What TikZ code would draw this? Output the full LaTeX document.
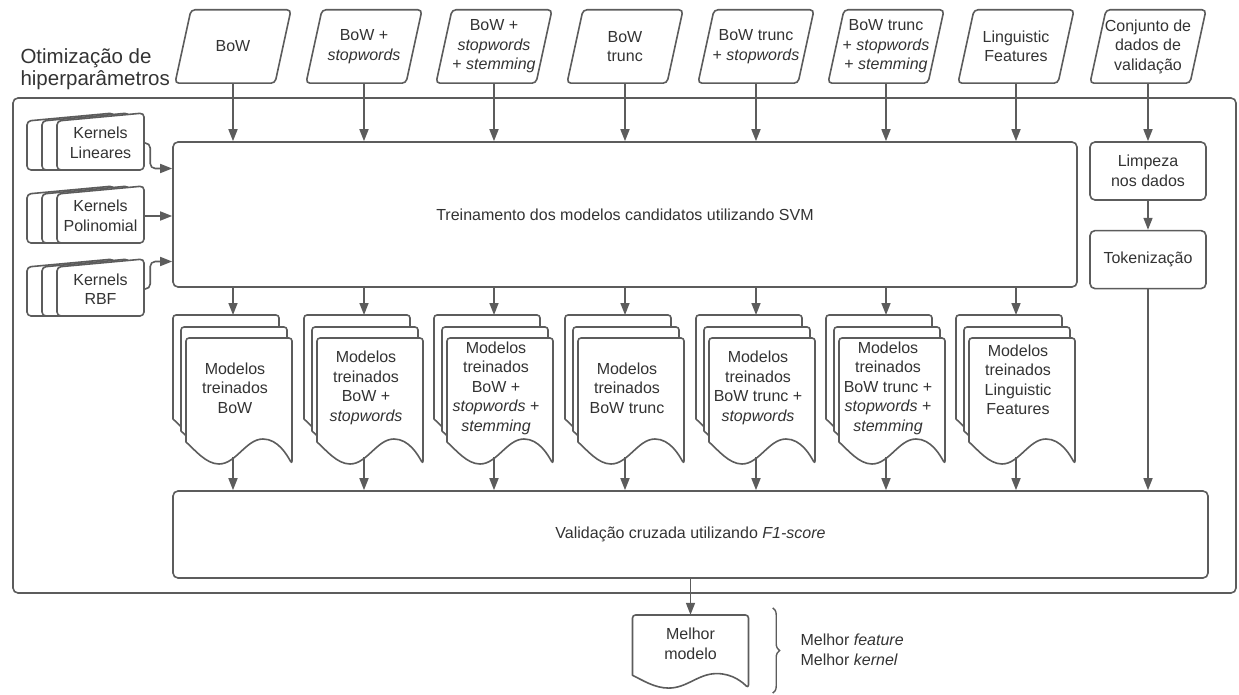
\documentclass[tikz,border=0pt]{standalone}
\usepackage{fontspec}
\setmainfont{Liberation Sans}
\usetikzlibrary{arrows.meta, positioning, decorations.pathreplacing}
\definecolor{linegray}{RGB}{92,92,92}
\definecolor{txtgray}{RGB}{51,51,51}

\tikzset{
  kcard/.pic={\draw[card, rounded corners=4pt] (0,0) -- (87,-8) -- (87,49) -- (0,49) -- cycle;},
  doccard/.pic={\draw[card] [rounded corners=3pt] (0,104) -- (0,0) -- (106,0) -- (106,126) [sharp corners]
      .. controls (101,117) and (92,101) .. (77,101)
      .. controls (60,101) and (50,126) .. (33,126)
      .. controls (20,126) and (9,112) .. (0,104) -- cycle;}
}

\begin{document}
\begin{tikzpicture}[x=1pt, y=-1pt,
    every node/.style={font=\fontsize{16}{19.5}\selectfont, text=txtgray, align=center},
    card/.style={draw=linegray, fill=white, line width=1.6pt, line join=round},
    datain/.style={minimum width=100pt, minimum height=73pt, inner sep=0pt},
    para/.style={draw=linegray, line width=1.6pt, rounded corners=4pt},
    procbox/.style={draw=linegray, fill=white, line width=1.6pt, rounded corners=5pt},
    arr/.style={-{Triangle[length=12pt, width=9pt]}, draw=linegray, line width=1.6pt}
]
\useasboundingbox (0,0) rectangle (1239,695);

% outer frame and title
\draw[linegray, line width=1.6pt, rounded corners=5pt] (13,98) rectangle (1236,593);
\node[anchor=west, align=left, font=\fontsize{20.5}{22}\selectfont] (title) at (17,69) {Otimização de\\hiperparâmetros};

% input datasets
\foreach \i/\x/\txt in {1/233/{BoW}, 2/364/{BoW +\\\textit{stopwords}}, 3/494/{BoW +\\\textit{stopwords}\\+ \textit{stemming}},
    4/625/{BoW\\trunc}, 5/756/{BoW trunc\\+ \textit{stopwords}}, 6/886/{BoW trunc\\+ \textit{stopwords}\\+ \textit{stemming}},
    7/1016/{Linguistic\\Features}, 8/1148/{Conjunto de\\dados de\\validação}} {
  \node[datain] (in\i) at (\x,46.5) {\txt};
  \draw[para] ([xshift=-58pt]in\i.south) -- ([xshift=42pt]in\i.south) -- ([xshift=58pt]in\i.north) -- ([xshift=-42pt]in\i.north) -- cycle;
}

% kernels
\foreach \n/\y/\txt in {klin/121/{Kernels\\Lineares}, kpol/194/{Kernels\\Polinomial}, krbf/267/{Kernels\\RBF}} {
  \foreach \dx in {27,42,57} \pic at (\dx,\y) {kcard};
  \node[minimum width=87pt, minimum height=49pt, inner sep=0pt] (\n) at (100.5,\y+22) {\txt};
}

% processing boxes
\node[procbox, minimum width=904pt, minimum height=145pt] (train) at (625,214.5) {Treinamento dos modelos candidatos utilizando SVM};
\node[procbox, minimum width=116pt, minimum height=58pt] (limp) at (1148,171) {Limpeza\\nos dados};
\node[procbox, minimum width=116pt, minimum height=58pt, below=29pt of limp] (tok) {Tokenização};
\node[procbox, minimum width=1035pt, minimum height=87pt] (valid) at (690.5,534.5) {Validação cruzada utilizando \textit{F1-score}};

% trained models
\foreach \i/\x/\y/\txt in {1/233/388/{Modelos\\treinados\\BoW}, 2/364/388/{Modelos\\treinados\\BoW +\\\textit{stopwords}},
    3/494/388/{Modelos\\treinados\\BoW +\\\textit{stopwords} +\\\textit{stemming}}, 4/625/388/{Modelos\\treinados\\BoW trunc},
    5/756/388/{Modelos\\treinados\\BoW trunc +\\\textit{stopwords}}, 6/886/388/{Modelos\\treinados\\BoW trunc +\\\textit{stopwords} +\\\textit{stemming}},
    7/1016/380/{Modelos\\treinados\\Linguistic\\Features}} {
  \pic at (\x-60,315) {doccard};
  \pic at (\x-52,327) {doccard};
  \pic at (\x-47,338) {doccard};
  \node (m\i) at (\x+2,\y) {\txt};
  \coordinate (t\i) at (\x,315);
  \coordinate (b\i) at (\x,457);
  \draw[arr] (in\i.south) -- (in\i.south |- train.north);
  \draw[arr] (train.south -| t\i) -- (t\i);
  \draw[arr] (b\i) -- (b\i |- valid.north);
}

% best model
\pic[xscale=1.094, yscale=0.58] at (632.5,615) {doccard};
\node[minimum width=116pt, minimum height=58pt, inner sep=0pt] (best) at (690.5,644) {Melhor\\modelo};
\node[anchor=west, align=left] (bestlbl) at (797,650) {Melhor \textit{feature}\\Melhor \textit{kernel}};

% connectors
\draw[arr, rounded corners=5pt] (klin.east) -- ++(6,0) |- ([yshift=46pt]train.west);
\draw[arr] (kpol.east) -- (kpol.east -| train.west);
\draw[arr, rounded corners=5pt] (krbf.east) -- ++(6,0) |- ([yshift=-47pt]train.west);
\draw[arr] (in8.south) -- (limp.north);
\draw[arr] (limp) -- (tok);
\draw[arr] (tok.south) -- (tok.south |- valid.north);
\draw[arr] (valid.south) -- (best.north);
\draw[linegray, line width=1.4pt, decorate, decoration={brace, amplitude=7pt}]
  ([xshift=24pt,yshift=7pt]best.north east) -- ([xshift=24pt,yshift=-20pt]best.south east);

\end{tikzpicture}
\end{document}
